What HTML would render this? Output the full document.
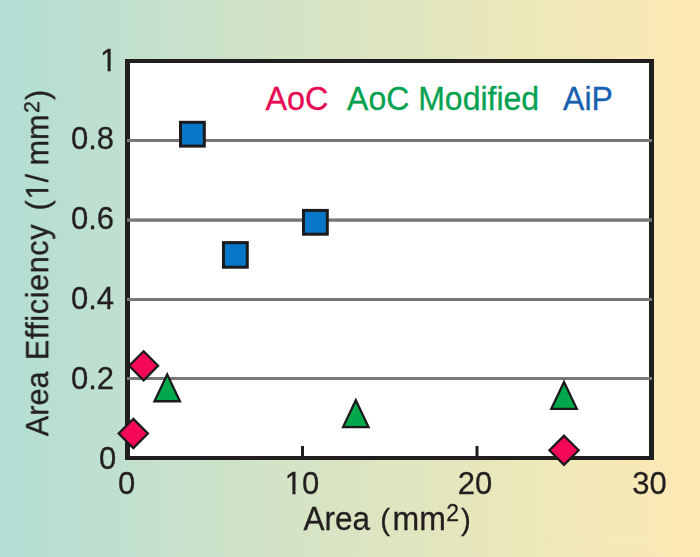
<!DOCTYPE html>
<html><head><meta charset="utf-8"><title>Area Efficiency</title>
<style>
html,body{margin:0;padding:0;width:700px;height:557px;overflow:hidden;background:#d9e4c3;}
svg{display:block;}
text{font-family:"Liberation Sans",Arial,sans-serif;}
</style></head>
<body>
<svg width="700" height="557" viewBox="0 0 700 557">
<defs>
<linearGradient id="bg" x1="0" y1="0" x2="700" y2="0" gradientUnits="userSpaceOnUse">
<stop offset="0" stop-color="#b3ded5"/>
<stop offset="0.25" stop-color="#c7e1cc"/>
<stop offset="0.5" stop-color="#dae4c2"/>
<stop offset="0.75" stop-color="#ece8ba"/>
<stop offset="1" stop-color="#fee9b4"/>
</linearGradient>
<mask id="nofoot" maskUnits="userSpaceOnUse" x="0" y="0" width="700" height="557">
<rect x="0" y="0" width="700" height="557" fill="#fff"/>
<g fill="#000">
<rect x="100" y="67.5" width="7.57" height="5"/>
<rect x="110.7" y="67.5" width="7.3" height="5"/>
<rect x="285" y="490.5" width="7.4" height="5"/>
<rect x="295.49" y="490.5" width="7.51" height="5"/>
<rect x="44.5" y="182.5" width="5" height="6.5"/>
<rect x="44.5" y="191.86" width="5" height="6.64"/>
</g>
</mask>
</defs>
<rect x="0" y="0" width="700" height="557" fill="url(#bg)"/>
<rect x="543" y="540.4" width="113" height="1" fill="#fff" opacity="0.2"/>
<!-- plot area -->
<rect x="130" y="63" width="519" height="393" fill="#fff"/>
<!-- frame -->
<g fill="#211e20">
<rect x="125" y="59" width="529" height="4"/>
<rect x="125" y="456" width="529" height="4"/>
<rect x="125" y="59" width="5" height="401"/>
<rect x="649" y="59" width="5" height="401"/>
<!-- ticks -->
<rect x="301" y="446" width="3" height="10"/>
<rect x="475.5" y="446" width="3" height="10"/>
</g>
<!-- gridlines -->
<g fill="#787878">
<rect x="127" y="139" width="525" height="3"/>
<rect x="127" y="218.4" width="525" height="3.4"/>
<rect x="127" y="298" width="525" height="3"/>
<rect x="127" y="377" width="525" height="3"/>
</g>

<!-- AiP squares -->
<g fill="#0877c8" stroke="#1c1a1c" stroke-width="3">
<rect x="180.5" y="122.3" width="23.8" height="23.8"/>
<rect x="223.47" y="242.6" width="23.8" height="24.6"/>
<rect x="303.5" y="210.4" width="23.8" height="23.8"/>
</g>
<!-- AoC diamonds -->
<g fill="#f40857" stroke="#1c1a1c" stroke-width="2.3" stroke-linejoin="miter">
<path d="M143.6 351.30 L158.10 365.8 L143.6 380.30 L129.10 365.8 Z"/>
<path d="M133.3 418.90 L147.90 433.5 L133.3 448.10 L118.70 433.5 Z"/>
<path d="M564.05 435.70 L578.65 450.3 L564.05 464.90 L549.45 450.3 Z"/>
</g>
<!-- AoC Modified triangles -->
<g fill="#00a84c" stroke="#1c1a1c" stroke-width="2.3" stroke-linejoin="miter" stroke-miterlimit="10">
<path d="M167.2 374.38 L179.93 401.25 L154.47 401.25 Z"/>
<path d="M355.8 400.18 L368.53 427.05 L343.07 427.05 Z"/>
<path d="M564.05 381.98 L576.78 408.85 L551.32 408.85 Z"/>
</g>

<!-- legend -->
<g font-size="32">
<text x="265.4" y="0" transform="translate(0,110) scale(1,1.03)" fill="#e60a52" stroke="#e60a52" stroke-width="0.3" font-size="32.4">AoC</text>
<text x="347.1" y="0" transform="translate(0,110) scale(1,1.03)" fill="#04a250" stroke="#04a250" stroke-width="0.3">AoC Modified</text>
<text x="563.1" y="0" transform="translate(0,110) scale(1,1.03)" fill="#1661b0" stroke="#1661b0" stroke-width="0.3">AiP</text>
</g>

<g mask="url(#nofoot)">
<!-- y tick labels -->
<g font-size="31" fill="#231f20" stroke="#231f20" stroke-width="0.3">
<text x="100" y="0" transform="translate(0,70.9) scale(1,1.03)">1</text>
<text x="71" y="0" transform="translate(0,149.4) scale(1,1.03)">0.8</text>
<text x="71" y="0" transform="translate(0,229.4) scale(1,1.03)">0.6</text>
<text x="71" y="0" transform="translate(0,309.4) scale(1,1.03)">0.4</text>
<text x="71" y="0" transform="translate(0,389.4) scale(1,1.03)">0.2</text>
<text x="99" y="0" transform="translate(0,469.3) scale(1,1.03)">0</text>
</g>
<!-- x tick labels -->
<g font-size="31" fill="#231f20" stroke="#231f20" stroke-width="0.3" text-anchor="middle">
<text x="126.5" y="0" transform="translate(0,493.7) scale(1,1.03)">0</text>
<text x="302" y="0" transform="translate(0,493.7) scale(1,1.03)">10</text>
<text x="475" y="0" transform="translate(0,493.7) scale(1,1.03)">20</text>
<text x="649.5" y="0" transform="translate(0,493.7) scale(1,1.03)">30</text>
</g>
<!-- x axis title -->
<text y="0" transform="translate(0,529.9) scale(1,1.03)" font-size="31.5" fill="#231f20" stroke="#231f20" stroke-width="0.3"><tspan x="303.5">Area</tspan><tspan x="380.3" font-size="29.5">(</tspan><tspan x="392.5" font-size="32">mm</tspan><tspan x="446.3" y="-8.83" font-size="23">2</tspan><tspan x="460.9" y="0" font-size="29.5">)</tspan></text>
<!-- y axis title -->
<text transform="translate(48.2,0) rotate(-90)" y="0" font-size="30.7" fill="#231f20" stroke="#231f20" stroke-width="0.3"><tspan x="-436.3">Area</tspan><tspan x="-360.3" textLength="135.8" lengthAdjust="spacing">Efficiency</tspan><tspan x="-210.5">(</tspan><tspan x="-199.5">1/</tspan><tspan x="-165.5">mm</tspan><tspan x="-113" y="-9.5" font-size="21.5">2</tspan><tspan x="-100" y="0">)</tspan></text>
</g>
</svg>
</body></html>
